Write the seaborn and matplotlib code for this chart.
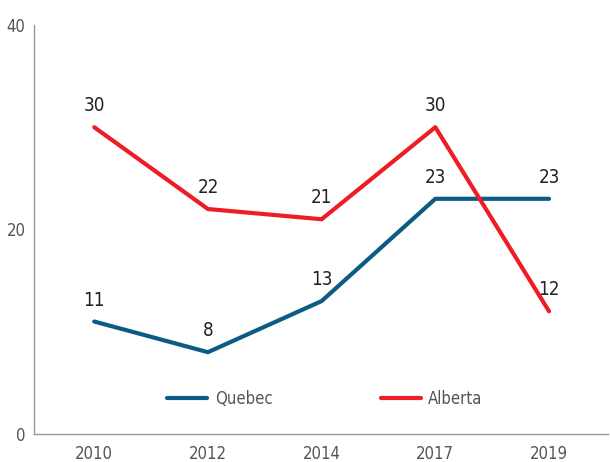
import matplotlib
matplotlib.use("Agg")
import matplotlib.pyplot as plt
import seaborn as sns
import pandas as pd

years = ["2010", "2012", "2014", "2017", "2019"]
quebec = [11, 8, 13, 23, 23]
alberta = [30, 22, 21, 30, 12]

sns.set_style("white")
plt.rcParams['font.family'] = ['DejaVu Sans']
plt.rcParams['font.stretch'] = 'condensed'

df = pd.DataFrame({
    "year": years * 2,
    "pos": list(range(len(years))) * 2,
    "value": quebec + alberta,
    "region": ["Quebec"] * len(years) + ["Alberta"] * len(years),
})

fig = plt.figure(figsize=(6.1, 4.62), dpi=100)
ax = fig.add_axes([0.0557, 0.0606, 0.9413, 0.8854])
palette = {"Quebec": "#0b5c85", "Alberta": "#ee1d25"}
sns.lineplot(data=df, x="pos", y="value", hue="region", palette=palette,
             linewidth=3.0, ax=ax, sort=False)

for region, vals in (("Quebec", quebec), ("Alberta", alberta)):
    for i, v in enumerate(vals):
        ax.annotate(str(v), (i, v), xytext=(0, 8.5), textcoords="offset points",
                    ha="center", va="bottom", fontsize=13.5, color="#222222",
                    fontstretch="condensed")

ax.set_xlim(-0.53, 4.52)
ax.set_ylim(0, 40)
ax.set_yticks([0, 20, 40])
ax.set_xticks(range(len(years)))
ax.set_xticklabels(years)
ax.set_xlabel("")
ax.set_ylabel("")
for s in ["top", "right"]:
    ax.spines[s].set_visible(False)
for s in ["left", "bottom"]:
    ax.spines[s].set_color("#999999")
    ax.spines[s].set_linewidth(1.0)
ax.tick_params(axis="y", length=5, color="#999999", labelsize=12, labelcolor="#555555", pad=1)
ax.tick_params(axis="x", length=0, labelsize=12, labelcolor="#555555", pad=8)

leg = ax.legend(loc="center", bbox_to_anchor=(0.507, 0.086), ncol=2, frameon=False,
                fontsize=12, handlelength=2.4, columnspacing=6.5, handletextpad=0.45)
for t in leg.get_texts():
    t.set_color("#555555")

fig.savefig("out.png", dpi=100)
